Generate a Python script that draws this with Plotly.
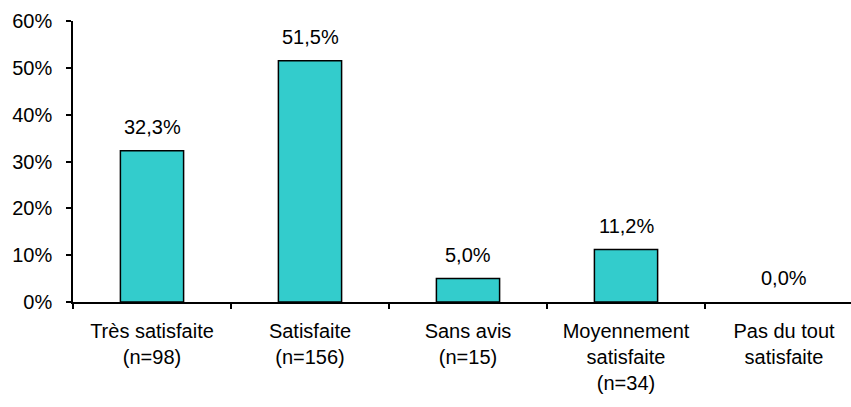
import plotly.graph_objects as go

categories = ["Très satisfaite<br>(n=98)", "Satisfaite<br>(n=156)", "Sans avis<br>(n=15)",
              "Moyennement<br>satisfaite<br>(n=34)", "Pas du tout<br>satisfaite"]
values = [32.3, 51.5, 5.0, 11.2, 0.0]
labels = [f"{v:.1f}%".replace(".", ",") for v in values]
yticks = [0, 10, 20, 30, 40, 50, 60]
yticklabels = [f"{t}%" for t in yticks]

FONT = "Liberation Sans, Arial, sans-serif"
FS = 20

fig = go.Figure()
fig.add_trace(go.Bar(
    x=categories, y=values, width=0.4,
    marker=dict(color="#33CCCC",
                line=dict(color="black", width=[1.5 if v > 0 else 0 for v in values])),
    hoverinfo="skip",
))
for c, v, t in zip(categories, values, labels):
    fig.add_annotation(x=c, y=v, text=t, showarrow=False, yanchor="bottom",
                       yshift=11, font=dict(family=FONT, size=FS, color="black"))

fig.update_layout(
    width=851, height=407,
    margin=dict(l=73, r=0, t=21, b=105),
    plot_bgcolor="white", paper_bgcolor="white",
    showlegend=False,
    font=dict(family=FONT, size=FS, color="black"),
    bargap=0.6,
)
fig.update_xaxes(
    type="category", range=[-0.5, 4.424], tickson="boundaries", automargin=False,
    ticks="outside", ticklen=5, tickcolor="black", tickwidth=1.5,
    showline=True, linecolor="black", linewidth=1.5, showgrid=False,
    tickfont=dict(family=FONT, size=FS), ticklabelstandoff=10,
)
fig.update_yaxes(
    range=[0, 60], tickvals=yticks, ticktext=yticklabels, automargin=False,
    ticks="outside", ticklen=5, tickcolor="black", tickwidth=1.5,
    showline=True, linecolor="black", linewidth=1.5, showgrid=False, zeroline=False,
    tickfont=dict(family=FONT, size=FS), ticklabelstandoff=10,
)
fig.write_html("out.html", config={"displayModeBar": False},
               post_script="document.body.style.margin='0';document.body.style.overflow='hidden';")
